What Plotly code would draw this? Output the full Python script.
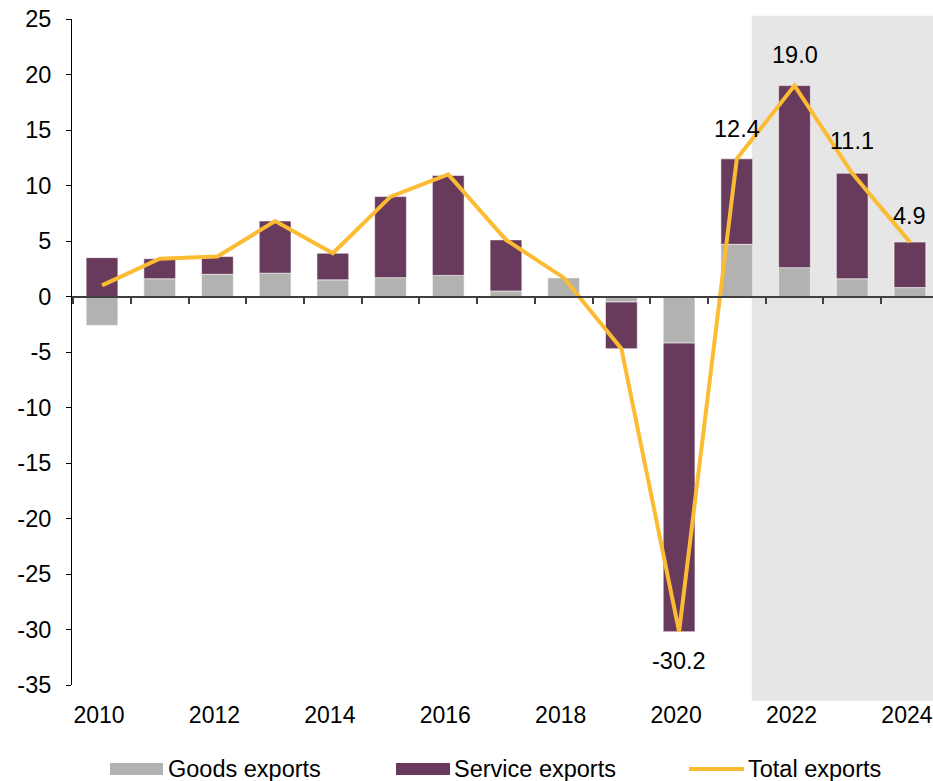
import plotly.graph_objects as go

# Export growth contributions (percentage points) and total export growth (%)
years = list(range(2010, 2025))
goods_exports = [-2.6, 1.6, 2.0, 2.1, 1.5, 1.7, 1.9, 0.5, 1.7, -0.5, -4.2, 4.7, 2.6, 1.6, 0.8]
service_exports = [3.5, 1.8, 1.6, 4.7, 2.4, 7.3, 9.0, 4.6, 0.0, -4.2, -26.0, 7.7, 16.4, 9.5, 4.1]
total_exports = [1.0, 3.4, 3.6, 6.8, 3.9, 9.0, 11.0, 5.1, 1.7, -4.7, -30.2, 12.4, 19.0, 11.1, 4.9]
labelled_years = [2020, 2021, 2022, 2023, 2024]
x_tick_labels = [2010, 2012, 2014, 2016, 2018, 2020, 2022, 2024]
y_tick_values = [25, 20, 15, 10, 5, 0, -5, -10, -15, -20, -25, -30, -35]

GOODS = "#b2b3b1"
SERVICE = "#683a5c"
TOTAL = "#fbbc33"
FONT = "Liberation Sans, Arial, sans-serif"
FS = 23.5

W, H = 933, 781
ML, MR, MT, MB = 72, 0, 19, 96
PW, PH = W - ML - MR, H - MT - MB
Y_MIN, Y_MAX = -35, 25
X_RANGE = [2009.48, 2024.4]


def px_x(p):
    return (p - ML) / PW


def px_y(p):
    return (H - MB - p) / PH


fig = go.Figure()
fig.add_trace(go.Bar(
    x=years, y=goods_exports, name="Goods exports", marker_color=GOODS,
    marker_line=dict(color="rgba(255,255,255,0.55)", width=1), width=0.55,
    showlegend=False))
fig.add_trace(go.Bar(
    x=years, y=service_exports, name="Service exports", marker_color=SERVICE,
    marker_line=dict(color="rgba(255,255,255,0.55)", width=1), width=0.55,
    showlegend=False))
fig.add_trace(go.Scatter(
    x=years, y=total_exports, name="Total exports", mode="lines",
    line=dict(color=TOTAL, width=4), xaxis="x2", showlegend=False))

# value labels for the most recent years
shifts = {2020: -29, 2021: 30, 2022: 31, 2023: 32, 2024: 26}
for yr, val in zip(years, total_exports):
    if yr in labelled_years:
        fig.add_annotation(x=yr, y=val, xref="x2", yref="y", text=f"{val:.1f}",
                           showarrow=False, yshift=shifts[yr],
                           font=dict(family=FONT, size=FS, color="#000"))

# shaded forecast period
fig.add_shape(type="rect", xref="paper", yref="paper",
              x0=px_x(751.7), x1=1.0, y0=px_y(700.7), y1=px_y(15.7),
              fillcolor="#e6e6e6", line_width=0, layer="below")

# legend drawn by hand
ly = px_y(769)
fig.add_shape(type="rect", xref="paper", yref="paper",
              x0=px_x(110), x1=px_x(163), y0=px_y(775), y1=px_y(763),
              fillcolor=GOODS, line_width=0)
fig.add_shape(type="rect", xref="paper", yref="paper",
              x0=px_x(396), x1=px_x(450), y0=px_y(775), y1=px_y(763),
              fillcolor=SERVICE, line_width=0)
fig.add_shape(type="line", xref="paper", yref="paper",
              x0=px_x(689), x1=px_x(744), y0=ly, y1=ly,
              line=dict(color=TOTAL, width=4))
for px0, txt in [(166, "Goods exports"), (452, "Service exports"), (746, "Total exports")]:
    fig.add_annotation(x=px_x(px0), y=ly, xref="paper", yref="paper", text=txt,
                       showarrow=False, xanchor="left", yanchor="middle",
                       font=dict(family=FONT, size=FS, color="#000"))

fig.update_layout(
    width=W, height=H,
    margin=dict(l=ML, r=MR, t=MT, b=MB),
    paper_bgcolor="white", plot_bgcolor="rgba(0,0,0,0)",
    barmode="relative",
    font=dict(family=FONT, size=FS, color="#000"),
    xaxis=dict(range=X_RANGE, tickmode="array", tickvals=x_tick_labels,
               ticktext=[str(v) for v in x_tick_labels], ticks="",
               showline=False, showgrid=False, zeroline=False,
               ticklabelstandoff=14, ticklabeloverflow="allow",
               ticklabelshift=-3,
               tickfont=dict(family=FONT, size=23, color="#000")),
    xaxis2=dict(range=X_RANGE, overlaying="x", anchor="free",
                position=(0 - Y_MIN) / (Y_MAX - Y_MIN), side="bottom",
                showline=True, linecolor="#404040", linewidth=1.5,
                ticks="outside", ticklen=7, tickwidth=1.5, tickcolor="#404040",
                tickmode="linear", tick0=2009.5, dtick=1,
                showticklabels=False, showgrid=False, zeroline=False),
    yaxis=dict(range=[Y_MIN, Y_MAX], tickmode="array", tickvals=y_tick_values,
               ticktext=[str(v) for v in y_tick_values],
               showline=True, linecolor="#000", linewidth=1,
               ticks="outside", ticklen=5, tickcolor="#000",
               showgrid=False, zeroline=False, ticklabelstandoff=10,
               tickfont=dict(family=FONT, size=FS, color="#000")),
)

fig.write_html("out.html")
